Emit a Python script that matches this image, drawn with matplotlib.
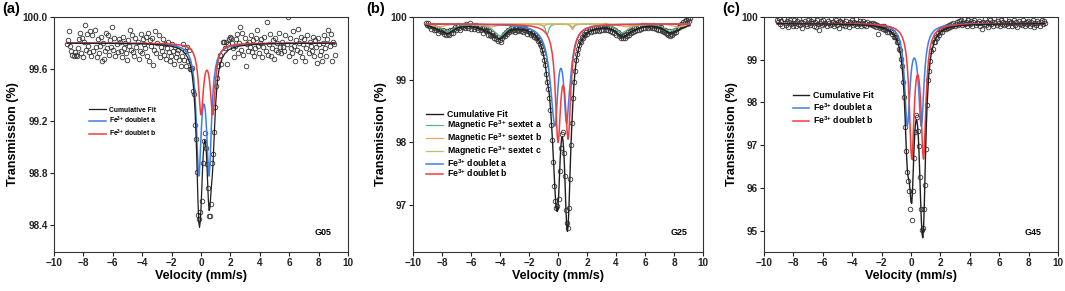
import numpy as np
import matplotlib
matplotlib.use("Agg")
import matplotlib.pyplot as plt

plt.rcParams.update({
    "font.family": ["Liberation Sans", "DejaVu Sans"],
    "font.weight": "bold",
    "axes.labelweight": "bold",
    "mathtext.fontset": "custom",
    "mathtext.rm": "Liberation Sans:bold",
    "mathtext.it": "Liberation Sans:bold",
    "mathtext.bf": "Liberation Sans:bold",
    "mathtext.default": "rm",
})

# ---------------- measured channels ----------------
V_START, V_STOP, N_CH = -9.1, 9.1, 256

# ---------------- panel (a) G05 ----------------
a_obs = [
    99.79, 99.82, 99.89, 99.78, 99.74, 99.71, 99.70, 99.73, 99.71, 99.70,
    99.76, 99.83, 99.88, 99.72, 99.84, 99.69, 99.81, 99.94, 99.75, 99.87,
    99.78, 99.73, 99.89, 99.70, 99.86, 99.74, 99.90, 99.77, 99.69, 99.83,
    99.72, 99.78, 99.85, 99.66, 99.80, 99.68, 99.74, 99.88, 99.76, 99.86,
    99.71, 99.82, 99.77, 99.92, 99.75, 99.84, 99.70, 99.79, 99.73, 99.83,
    99.81, 99.74, 99.69, 99.85, 99.76, 99.80, 99.72, 99.67, 99.82, 99.78,
    99.90, 99.75, 99.86, 99.73, 99.70, 99.84, 99.77, 99.81, 99.68, 99.74,
    99.87, 99.72, 99.83, 99.79, 99.76, 99.85, 99.70, 99.88, 99.66, 99.82,
    99.78, 99.84, 99.63, 99.75, 99.89, 99.72, 99.80, 99.86, 99.69, 99.77,
    99.74, 99.83, 99.71, 99.79, 99.68, 99.76, 99.81, 99.73, 99.66, 99.70,
    99.79, 99.74, 99.64, 99.77, 99.69, 99.72, 99.75, 99.67, 99.62, 99.70,
    99.79, 99.67, 99.74, 99.62, 99.77, 99.66, 99.75, 99.60, 99.60, 99.61,
    99.43, 99.41, 99.17, 99.06, 98.81, 98.48, 98.45, 98.50, 98.59, 98.88,
    99.05, 99.11, 98.99, 98.87, 98.69, 98.47, 98.47, 98.56, 98.88, 98.95,
    99.12, 99.31, 99.47, 99.53, 99.62, 99.67, 99.71, 99.64, 99.81, 99.81,
    99.76, 99.81, 99.64, 99.79, 99.83,
    99.85, 99.84, 99.80, 99.76, 99.69, 99.78, 99.83, 99.87, 99.72, 99.80,
    99.92, 99.75, 99.88, 99.71, 99.84, 99.62, 99.79, 99.74, 99.81, 99.77,
    99.86, 99.73, 99.82, 99.70, 99.76, 99.84, 99.90, 99.78, 99.72, 99.80,
    99.83, 99.69, 99.77, 99.85, 99.74, 99.96, 99.71, 99.79, 99.87, 99.70,
    99.76, 99.82, 99.68, 99.84, 99.75, 99.80, 99.73, 99.88, 99.77, 99.72,
    99.81, 99.77, 99.74, 99.86, 99.79, 100.00, 99.70, 99.84, 99.76, 99.72,
    99.89, 99.78, 99.66, 99.82, 99.75, 99.91, 99.80, 99.73, 99.85, 99.69,
    99.79, 99.83, 99.66, 99.76, 99.86, 99.72, 99.81, 99.78, 99.74, 99.85,
    99.70, 99.82, 99.77, 99.65, 99.84, 99.79, 99.71, 99.74, 99.66, 99.80,
    99.86, 99.76, 99.70, 99.83, 99.90, 99.78, 99.87, 99.66, 99.81, 99.79,
    99.71,
]
a_base = 99.80
a_fit_v = [-9.1, -6, -4, -3, -2.5, -2, -1.6, -1.3, -1.1, -0.9, -0.8, -0.7, -0.6,
           -0.5, -0.4, -0.3, -0.25, -0.2, -0.15, -0.1, -0.05, 0, 0.05, 0.1, 0.15,
           0.2, 0.25, 0.3, 0.35, 0.4, 0.45, 0.5, 0.55, 0.6, 0.65, 0.7, 0.75, 0.8,
           0.85, 0.9, 1.0, 1.1, 1.2, 1.3, 1.4, 1.6, 1.9, 2.2, 2.6, 3.2, 4, 6, 9.1]
a_doublet_a = [99.799, 99.798, 99.796, 99.792, 99.789, 99.783, 99.774, 99.761, 99.746,
               99.719, 99.697, 99.665, 99.616, 99.533, 99.389, 99.142, 98.984, 98.843,
               98.778, 98.824, 98.945, 99.081, 99.194, 99.273, 99.318, 99.332, 99.318,
               99.273, 99.194, 99.081, 98.945, 98.824, 98.778, 98.843, 98.984, 99.142,
               99.280, 99.389, 99.471, 99.533, 99.616, 99.665, 99.697, 99.719, 99.735,
               99.755, 99.771, 99.779, 99.786, 99.791, 99.795, 99.798, 99.799]
a_doublet_b = [99.800, 99.799, 99.798, 99.796, 99.795, 99.792, 99.788, 99.783, 99.778,
               99.768, 99.761, 99.752, 99.738, 99.716, 99.682, 99.623, 99.579, 99.520,
               99.445, 99.360, 99.283, 99.249, 99.276, 99.345, 99.422, 99.488, 99.536,
               99.568, 99.586, 99.592, 99.586, 99.568, 99.536, 99.488, 99.422, 99.345,
               99.276, 99.249, 99.283, 99.360, 99.520, 99.623, 99.682, 99.716, 99.738,
               99.761, 99.778, 99.785, 99.791, 99.794, 99.797, 99.799, 99.800]

# ---------------- panel (b) G25 ----------------
b_obs = [
    99.91, 99.88, 99.90, 99.86, 99.85, 99.81, 99.86, 99.88, 99.80, 99.83,
    99.79, 99.83, 99.74, 99.78, 99.80, 99.76, 99.80, 99.73, 99.76, 99.71,
    99.77, 99.73, 99.72, 99.80, 99.75, 99.80, 99.75, 99.81, 99.84, 99.79,
    99.83, 99.87, 99.82, 99.79, 99.86, 99.86, 99.84, 99.88, 99.82, 99.89,
    99.85, 99.83, 99.90, 99.81, 99.86, 99.87, 99.81, 99.84, 99.87, 99.82,
    99.79, 99.84, 99.86, 99.79, 99.82, 99.75, 99.82, 99.79, 99.77, 99.80,
    99.72, 99.78, 99.71, 99.70, 99.75, 99.72, 99.67, 99.72, 99.65, 99.68,
    99.62, 99.63, 99.60, 99.67, 99.70, 99.73, 99.70, 99.76, 99.73, 99.79,
    99.76, 99.80, 99.83, 99.78, 99.83, 99.79, 99.76, 99.83, 99.80, 99.77,
    99.83, 99.81, 99.78, 99.82, 99.76, 99.79, 99.82, 99.77, 99.73, 99.78,
    99.75, 99.72, 99.75, 99.72, 99.68, 99.72, 99.66, 99.68, 99.62, 99.63,
    99.57, 99.53, 99.48, 99.42, 99.31, 99.24, 99.09, 98.96, 98.85, 98.70,
    98.52, 98.28, 98.03, 97.68, 97.31, 97.06, 96.95, 96.98, 97.10, 97.54,
    97.91, 98.13, 98.17, 97.83, 97.47, 96.92, 96.72, 96.63, 96.95, 97.42,
    97.96, 98.31, 98.71, 98.96, 99.14, 99.31, 99.41, 99.49, 99.55, 99.61,
    99.60, 99.68, 99.67, 99.73, 99.71, 99.76, 99.73, 99.78, 99.81, 99.76,
    99.82, 99.78, 99.83, 99.77, 99.84, 99.79, 99.83, 99.78, 99.85, 99.80,
    99.85, 99.79, 99.84, 99.87, 99.80, 99.85, 99.79, 99.83, 99.77, 99.83,
    99.76, 99.81, 99.75, 99.79, 99.72, 99.76, 99.69, 99.73, 99.67, 99.70,
    99.66, 99.72, 99.67, 99.73, 99.69, 99.76, 99.72, 99.78, 99.74, 99.80,
    99.76, 99.82, 99.78, 99.83, 99.79, 99.85, 99.80, 99.86, 99.81, 99.87,
    99.82, 99.88, 99.82, 99.87, 99.83, 99.88, 99.84, 99.86, 99.82, 99.87,
    99.83, 99.86, 99.81, 99.86, 99.80, 99.85, 99.79, 99.84, 99.78, 99.79,
    99.76, 99.80, 99.74, 99.73, 99.71, 99.77, 99.70, 99.73, 99.72, 99.78,
    99.74, 99.80, 99.76, 99.82, 99.84, 99.85, 99.89, 99.86, 99.92, 99.88,
    99.93, 99.95, 99.91, 99.97, 99.94, 99.99,
]
b_base = 99.89
b_fit_v = [-9.1, -8.8, -8.5, -8.2, -7.9, -7.6, -7.3, -7.0, -6.7, -6.4, -6.1, -5.8, -5.5,
           -5.2, -4.9, -4.6, -4.3, -4.0, -3.7, -3.4, -3.1, -2.8, -2.5, -2.2, -1.9, -1.6,
           -1.4, -1.25, -1.1, -1.0, -0.9, -0.8, -0.75, -0.7, -0.6, -0.5,
           -0.4, -0.35, -0.3, -0.25, -0.2, -0.15, -0.1, -0.05, 0, 0.05, 0.1, 0.15, 0.2,
           0.25, 0.3, 0.35, 0.4, 0.45, 0.5, 0.55, 0.6, 0.65, 0.7, 0.75, 0.8, 0.85, 0.9,
           0.95, 1.0, 1.05, 1.1, 1.2, 1.3, 1.45, 1.6, 1.8,
           2.0, 2.3, 2.6, 2.9, 3.2, 3.5, 3.8, 4.1, 4.4, 4.7, 5.0, 5.3, 5.6, 5.9, 6.2,
           6.5, 6.8, 7.1, 7.4, 7.7, 8.0, 8.3, 8.6, 8.9, 9.1]
b_sextet_a = [99.878, 99.873, 99.863, 99.842, 99.798, 99.758, 99.797, 99.840, 99.860,
              99.867, 99.871, 99.871, 99.868, 99.861, 99.846, 99.815, 99.749, 99.688,
              99.749, 99.816, 99.848, 99.864, 99.872, 99.877, 99.879, 99.880,
              99.880, 99.877, 99.869, 99.855, 99.821, 99.742, 99.717, 99.742, 99.821,
              99.855, 99.869, 99.873, 99.876, 99.878, 99.880, 99.881, 99.881,
              99.882, 99.882, 99.882, 99.882, 99.882, 99.882, 99.882, 99.882, 99.882,
              99.882, 99.882, 99.882, 99.882,
              99.881, 99.880, 99.878, 99.876, 99.872, 99.866, 99.856, 99.842, 99.835,
              99.842, 99.855, 99.871, 99.878, 99.881, 99.882, 99.884,
              99.885, 99.884, 99.882, 99.879, 99.872, 99.860, 99.836, 99.786, 99.739,
              99.783, 99.833, 99.856, 99.866, 99.873, 99.873, 99.870, 99.862, 99.844,
              99.804, 99.768, 99.805, 99.845, 99.865, 99.874, 99.878]
b_sextet_b = [99.880, 99.872, 99.855, 99.839, 99.855, 99.871, 99.879, 99.882, 99.884,
              99.884, 99.884, 99.882, 99.879, 99.871, 99.854, 99.839, 99.855, 99.872,
              99.880, 99.884, 99.886, 99.887, 99.887, 99.887, 99.887, 99.887,
              99.885, 99.881, 99.865, 99.849, 99.865, 99.878, 99.881, 99.883, 99.885,
              99.886, 99.887, 99.887, 99.887, 99.887, 99.887, 99.887, 99.887, 99.887,
              99.887, 99.887, 99.887, 99.887, 99.887, 99.886, 99.886, 99.885, 99.885,
              99.884, 99.884, 99.883, 99.881, 99.879, 99.876, 99.872, 99.865, 99.854,
              99.836, 99.812, 99.799, 99.812, 99.836, 99.865, 99.877, 99.883, 99.885,
              99.887,
              99.887, 99.887, 99.887, 99.887, 99.886, 99.884, 99.880, 99.872, 99.855,
              99.840, 99.855, 99.872, 99.880, 99.882, 99.884, 99.884, 99.884, 99.882,
              99.879, 99.871, 99.854, 99.839, 99.855, 99.872, 99.878]
b_sextet_c = [99.890, 99.889, 99.889, 99.889, 99.889, 99.889, 99.889, 99.888, 99.887,
              99.886, 99.884, 99.879, 99.869, 99.860, 99.869, 99.879, 99.884, 99.886,
              99.887, 99.888, 99.889, 99.889, 99.889, 99.889, 99.889, 99.889,
              99.890, 99.890, 99.890, 99.890, 99.890, 99.890, 99.890, 99.890, 99.890,
              99.890, 99.890, 99.890, 99.890, 99.890, 99.890, 99.890, 99.890, 99.890,
              99.890, 99.890, 99.890, 99.890, 99.890, 99.890, 99.890, 99.890, 99.890,
              99.890, 99.890, 99.890, 99.890, 99.890, 99.890, 99.890, 99.890, 99.890,
              99.890, 99.890, 99.890, 99.890, 99.890, 99.890, 99.890, 99.890, 99.890,
              99.890,
              99.889, 99.889, 99.889, 99.889, 99.889, 99.888, 99.887, 99.886, 99.884,
              99.879, 99.869, 99.860, 99.869, 99.879, 99.884, 99.886, 99.887, 99.888,
              99.889, 99.889, 99.889, 99.889, 99.890, 99.890, 99.890]
b_doublet_a = [99.887, 99.887, 99.886, 99.886, 99.886, 99.885, 99.885, 99.885, 99.884,
               99.884, 99.883, 99.882, 99.881, 99.880, 99.879, 99.877, 99.875, 99.873,
               99.870, 99.866, 99.861, 99.854, 99.844, 99.830, 99.808, 99.773,
               99.734, 99.692, 99.632, 99.577, 99.504, 99.406, 99.344, 99.274, 99.096,
               98.866, 98.599, 98.470, 98.361, 98.286, 98.260, 98.321, 98.491, 98.694,
               98.876, 99.015, 99.110, 99.165, 99.182, 99.165, 99.110, 99.015, 98.876,
               98.700, 98.500, 98.340, 98.300, 98.380, 98.539, 98.698, 98.841, 98.968,
               99.095, 99.216, 99.318, 99.400, 99.469, 99.572, 99.644, 99.713, 99.758,
               99.796,
               99.820, 99.842, 99.855, 99.863, 99.869, 99.873, 99.876, 99.878, 99.880,
               99.882, 99.883, 99.883, 99.884, 99.885, 99.885, 99.886, 99.886, 99.887,
               99.887, 99.887, 99.887, 99.888, 99.888, 99.888, 99.888]
b_doublet_b = [99.888, 99.888, 99.888, 99.888, 99.887, 99.887, 99.887, 99.887, 99.887,
               99.886, 99.886, 99.886, 99.885, 99.885, 99.884, 99.883, 99.882, 99.881,
               99.880, 99.878, 99.876, 99.873, 99.869, 99.863, 99.855, 99.842,
               99.829, 99.816, 99.798, 99.781, 99.760, 99.732, 99.714, 99.692, 99.636,
               99.553, 99.420, 99.325, 99.204, 99.044, 98.843, 98.597, 98.331, 98.104,
               98.000, 98.063, 98.247, 98.467, 98.659, 98.799, 98.881, 98.908, 98.881,
               98.799, 98.659, 98.467, 98.290, 98.110, 98.050, 98.150, 98.370, 98.630,
               98.870, 99.060, 99.220, 99.340, 99.430, 99.552, 99.636, 99.714, 99.760,
               99.798,
               99.821, 99.842, 99.855, 99.863, 99.869, 99.873, 99.876, 99.878, 99.880,
               99.881, 99.882, 99.883, 99.884, 99.885, 99.885, 99.886, 99.886, 99.886,
               99.887, 99.887, 99.887, 99.887, 99.887, 99.888, 99.888]

# ---------------- panel (c) G45 ----------------
c_obs = [
    99.93, 99.88, 99.97, 99.84, 99.90, 99.79, 99.95, 99.86, 99.82, 99.91,
    99.76, 99.89, 99.94, 99.83, 99.87, 99.80, 99.92, 99.85, 99.78, 99.90,
    99.84, 99.96, 99.81, 99.88, 99.74, 99.86, 99.91, 99.83, 99.79, 99.93,
    99.87, 99.82, 99.90, 99.85, 99.95, 99.80, 99.88, 99.76, 99.92, 99.84,
    99.69, 99.86, 99.90, 99.81, 99.94, 99.83, 99.87, 99.78, 99.91, 99.85,
    99.82, 99.97, 99.84, 99.89, 99.79, 99.86, 99.93, 99.81, 99.88, 99.75,
    99.90, 99.85, 99.98, 99.82, 99.87, 99.80, 99.91, 99.84, 99.77, 99.89,
    99.86, 99.92, 99.81, 99.88, 99.83, 99.96, 99.79, 99.87, 99.84, 99.90,
    99.78, 99.85, 99.91, 99.82, 99.86, 99.80, 99.88, 99.83, 99.83, 99.85,
    99.81, 99.87, 99.79, 99.84, 99.76, 99.82, 99.61, 99.80, 99.74, 99.77,
    99.79, 99.71, 99.78, 99.70, 99.73, 99.66, 99.72, 99.64, 99.68, 99.61,
    99.66, 99.54, 99.54, 99.54, 99.42, 99.42, 99.26, 99.23, 99.02, 98.86,
    98.49, 98.12, 97.43, 96.86, 96.37, 96.16, 95.92, 95.50, 95.24, 95.92,
    96.69, 97.30, 97.71, 97.65, 97.33, 96.99, 96.26, 95.51, 95.02, 95.07,
    95.50, 96.07, 96.90, 97.95, 98.52, 98.74, 98.98, 99.21, 99.25, 99.41,
    99.41, 99.53, 99.51, 99.62, 99.57, 99.66, 99.71, 99.64, 99.74, 99.71,
    99.77,
    99.72, 99.78, 99.75, 99.81, 99.77, 99.84, 99.80, 99.86, 99.79, 99.83,
    99.88, 99.82, 99.90, 99.85, 99.93, 99.81, 99.87, 99.96, 99.84, 99.89,
    99.80, 99.92, 99.86, 99.83, 99.90, 99.78, 99.88, 99.94, 99.82, 99.87,
    99.85, 99.91, 99.79, 99.86, 99.73, 99.89, 99.84, 99.95, 99.81, 99.88,
    99.77, 99.86, 99.92, 99.83, 99.89, 99.80, 99.97, 99.85, 99.82, 99.90,
    99.86, 99.79, 99.93, 99.84, 99.88, 99.81, 99.95, 99.83, 99.87, 99.78,
    99.91, 99.85, 99.89, 99.80, 99.86, 99.94, 99.82, 99.88, 99.76, 99.90,
    99.84, 99.87, 99.81, 99.93, 99.85, 99.79, 99.89, 99.83, 99.91, 99.86,
    99.80, 99.88, 99.84, 99.92, 99.77, 99.87, 99.82, 99.90, 99.85, 99.79,
    99.88, 99.93, 99.84, 99.91, 99.87,
]
c_base = 99.85
c_fit_v = [-9.1, -6, -4, -3, -2.5, -2, -1.6, -1.3, -1.1, -0.9, -0.8, -0.7, -0.6,
           -0.5, -0.45, -0.4, -0.35, -0.3, -0.25, -0.2, -0.15, -0.1, -0.05, 0, 0.05,
           0.1, 0.15, 0.2, 0.25, 0.3, 0.35, 0.4, 0.45, 0.5, 0.55, 0.6, 0.65, 0.7,
           0.75, 0.8, 0.85, 0.9, 0.95, 1.0, 1.05, 1.1,
           1.2, 1.3, 1.4, 1.6, 1.9, 2.2, 2.6, 3.2, 4, 6, 9.1]
c_doublet_a = [99.847, 99.844, 99.837, 99.827, 99.818, 99.799, 99.770, 99.726, 99.673,
               99.572, 99.486, 99.353, 99.138, 98.776, 98.515, 98.199, 97.856, 97.567,
               97.443, 97.543, 97.808, 98.126, 98.415, 98.645, 98.814, 98.930, 99.002,
               99.037, 99.037, 99.002, 98.930, 98.814, 98.645, 98.415, 98.126, 97.808,
               97.543, 97.443, 97.567, 97.856, 98.199, 98.515, 98.776, 98.981, 99.138,
               99.259, 99.427, 99.533, 99.604, 99.689, 99.752, 99.784, 99.806, 99.823,
               99.834, 99.843, 99.847]
c_doublet_b = [99.847, 99.844, 99.838, 99.829, 99.821, 99.807, 99.787, 99.760, 99.731,
               99.684, 99.649, 99.602, 99.534, 99.435, 99.367, 99.280, 99.169, 99.024,
               98.831, 98.574, 98.235, 97.803, 97.309, 96.869, 96.674, 96.827, 97.224,
               97.671, 98.050, 98.329, 98.513, 98.617, 98.650, 98.617, 98.513, 98.329,
               98.050, 97.671, 97.224, 96.827, 96.674, 96.869, 97.309, 97.803, 98.235,
               98.574, 99.024, 99.280, 99.435, 99.602, 99.710, 99.760, 99.793, 99.816,
               99.830, 99.842, 99.847]

# ---------------- styling ----------------
C_CUM = "#1f1f1f"
C_A = "#3d7fe6"
C_B = "#f23c3c"
C_SA = "#5bb58c"
C_SB = "#f7a060"
C_SC = "#c2bf6a"
XTICKS = [-10, -8, -6, -4, -2, 0, 2, 4, 6, 8, 10]
FE = r"Fe$^{3{+}}$"

W, H = 1065, 291
fig = plt.figure(figsize=(W / 100, H / 100), dpi=100)


def px_axes(left, right, top, bottom):
    return fig.add_axes([left / W, 1 - bottom / H, (right - left) / W, (bottom - top) / H])


def style(ax, ylim, yticks, yfmt, tag):
    ax.set_xlim(-10, 10)
    ax.set_ylim(*ylim)
    ax.set_xticks(XTICKS)
    ax.set_yticks(yticks)
    ax.set_yticklabels([yfmt.format(t) for t in yticks])
    for s in ax.spines.values():
        s.set_linewidth(0.8)
        s.set_color("#333333")
    ax.tick_params(direction="out", length=3, width=0.8, labelsize=7.2, pad=1.5,
                   colors="#222222")
    ax.set_xlabel("Velocity (mm/s)", fontsize=9, labelpad=1.5)
    ax.set_ylabel("Transmission (%)", fontsize=9, labelpad=2.5)
    ax.text(0.945, 0.081, tag, transform=ax.transAxes, ha="right", va="center",
            fontsize=6.5, fontweight="bold")


v = np.linspace(V_START, V_STOP, N_CH)
mk = dict(ls="none", marker="o", ms=3.3, mfc="none", mec="#333333", mew=0.6, zorder=2)

# (a)
ax = px_axes(54, 348, 17, 252)
ax.plot(v, a_obs, **mk)
fa = np.array(a_fit_v)
cum_a = np.array(a_doublet_a) + np.array(a_doublet_b) - a_base
l1, = ax.plot(fa, cum_a, color=C_CUM, lw=0.9, zorder=4, label="Cumulative Fit")
l2, = ax.plot(fa, a_doublet_a, color=C_A, lw=1.1, zorder=3, label=FE + " doublet a")
l3, = ax.plot(fa, a_doublet_b, color=C_B, lw=1.1, zorder=3, label=FE + " doublet b")
style(ax, (98.195, 100.0), [98.4, 98.8, 99.2, 99.6, 100.0], "{:.1f}", "G05")
ax.legend(handles=[l1, l2, l3], loc="upper left", bbox_to_anchor=(0.12, 0.618),
          frameon=False, fontsize=4.9, handlelength=2.45, handletextpad=0.5,
          labelspacing=0.16, borderpad=0, borderaxespad=0)

# (b)
ax = px_axes(413, 703, 17, 252)
ax.plot(v, b_obs, **mk)
fb = np.array(b_fit_v)
comps_b = [b_sextet_a, b_sextet_b, b_sextet_c, b_doublet_a, b_doublet_b]
cum_b = sum(np.array(c) for c in comps_b) - 4 * b_base
s1, = ax.plot(fb, b_sextet_a, color=C_SA, lw=0.9, zorder=3, label="Magnetic " + FE + " sextet a")
s2, = ax.plot(fb, b_sextet_b, color=C_SB, lw=0.9, zorder=3, label="Magnetic " + FE + " sextet b")
s3, = ax.plot(fb, b_sextet_c, color=C_SC, lw=0.9, zorder=3, label="Magnetic " + FE + " sextet c")
d1, = ax.plot(fb, b_doublet_a, color=C_A, lw=1.1, zorder=3, label=FE + " doublet a")
d2, = ax.plot(fb, b_doublet_b, color=C_B, lw=1.1, zorder=3, label=FE + " doublet b")
k1, = ax.plot(fb, cum_b, color=C_CUM, lw=1.0, zorder=4, label="Cumulative Fit")
style(ax, (96.25, 100.0), [97, 98, 99, 100], "{:.0f}", "G25")
ax.legend(handles=[k1, s1, s2, s3, d1, d2], loc="upper left", bbox_to_anchor=(0.045, 0.603),
          frameon=False, fontsize=6.3, handlelength=1.9, handletextpad=0.46,
          labelspacing=-0.1, borderpad=0, borderaxespad=0)

# (c)
ax = px_axes(764, 1058, 17, 252)
ax.plot(v, c_obs, **mk)
fc = np.array(c_fit_v)
cum_c = np.array(c_doublet_a) + np.array(c_doublet_b) - c_base
m1, = ax.plot(fc, cum_c, color=C_CUM, lw=1.0, zorder=4, label="Cumulative Fit")
m2, = ax.plot(fc, c_doublet_a, color=C_A, lw=1.1, zorder=3, label=FE + " doublet a")
m3, = ax.plot(fc, c_doublet_b, color=C_B, lw=1.1, zorder=3, label=FE + " doublet b")
style(ax, (94.5, 100.0), [95, 96, 97, 98, 99, 100], "{:.0f}", "G45")
ax.legend(handles=[m1, m2, m3], loc="upper left", bbox_to_anchor=(0.098, 0.684),
          frameon=False, fontsize=6.3, handlelength=1.9, handletextpad=0.38,
          labelspacing=0.11, borderpad=0, borderaxespad=0)

for x, t in [(2, "(a)"), (366, "(b)"), (722, "(c)")]:
    fig.text(x / W, 1 - 1.5 / H, t, fontsize=10.5, fontweight="bold", va="top", ha="left")

fig.savefig("out.png", dpi=100)
